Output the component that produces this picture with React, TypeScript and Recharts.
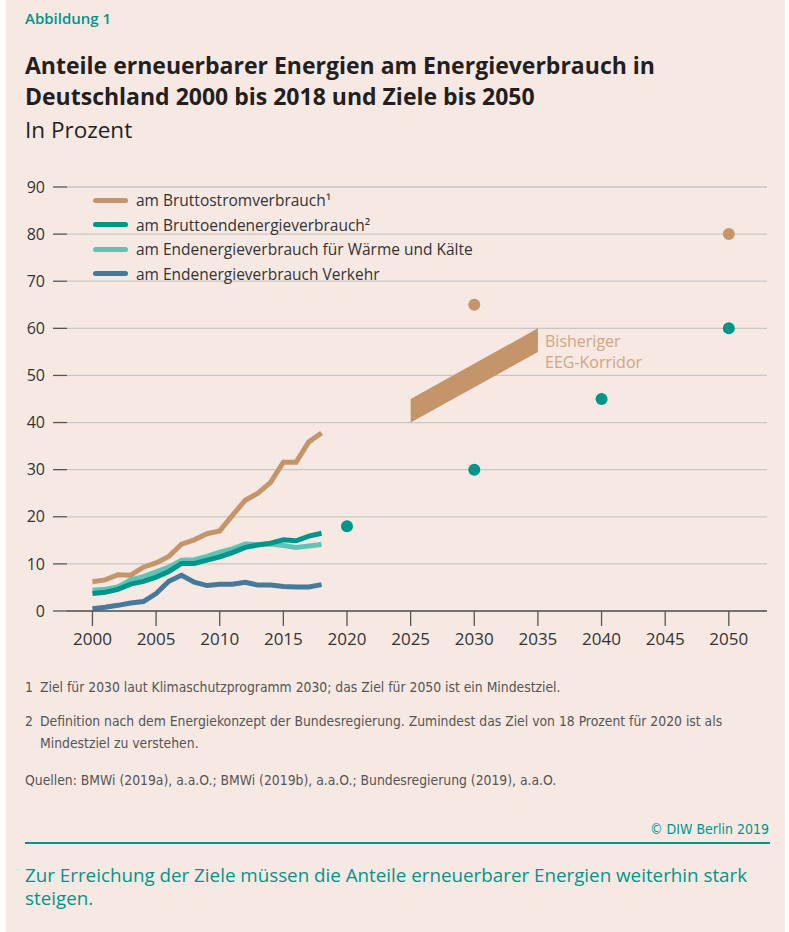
import React from "react";
import {
  ComposedChart,
  Line,
  Area,
  Scatter,
  XAxis,
  YAxis,
  CartesianGrid,
} from "recharts";

// ---------- data ----------
const years = [2000, 2001, 2002, 2003, 2004, 2005, 2006, 2007, 2008, 2009, 2010, 2011, 2012, 2013, 2014, 2015, 2016, 2017, 2018];
const bruttostrom = [6.2, 6.6, 7.7, 7.6, 9.3, 10.2, 11.6, 14.2, 15.1, 16.4, 17.0, 20.3, 23.5, 25.0, 27.3, 31.6, 31.6, 35.9, 37.8];
const bruttoenden = [3.7, 4.0, 4.6, 5.7, 6.3, 7.2, 8.4, 10.1, 10.1, 10.8, 11.5, 12.4, 13.5, 14.0, 14.4, 15.1, 14.9, 15.9, 16.5];
const waerme = [4.4, 4.6, 5.1, 6.6, 7.3, 8.3, 9.3, 10.8, 10.9, 11.6, 12.5, 13.2, 14.2, 14.1, 14.2, 13.9, 13.5, 13.8, 14.1];
const verkehr = [0.5, 0.8, 1.2, 1.7, 2.0, 3.7, 6.3, 7.6, 6.1, 5.4, 5.7, 5.7, 6.1, 5.5, 5.5, 5.2, 5.1, 5.1, 5.6];

const stromTargetYears = [2030, 2050];
const stromTargetValues = [65, 80];
const endTargetYears = [2020, 2030, 2040, 2050];
const endTargetValues = [18, 30, 45, 60];

const corridorYears = [2025, 2035];
const corridorLow = [40, 55];
const corridorHigh = [45, 60];

const xTicks = [2000, 2005, 2010, 2015, 2020, 2025, 2030, 2035, 2040, 2045, 2050];
const yTicks = [0, 10, 20, 30, 40, 50, 60, 70, 80, 90];

const C_TAN = "#c4956a";
const C_TEAL = "#00958a";
const C_LTEAL = "#5ec5b6";
const C_BLUE = "#46799a";
const BG = "#f6e9e4";

const series = [
  { key: "strom", name: "am Bruttostromverbrauch¹", color: C_TAN },
  { key: "end", name: "am Bruttoendenergieverbrauch²", color: C_TEAL },
  { key: "waerme", name: "am Endenergieverbrauch für Wärme und Kälte", color: C_LTEAL },
  { key: "verkehr", name: "am Endenergieverbrauch Verkehr", color: C_BLUE },
];

const tableData: any[] = years.map((y, i) => ({
  year: y,
  strom: bruttostrom[i],
  end: bruttoenden[i],
  waerme: waerme[i],
  verkehr: verkehr[i],
}));
corridorYears.forEach((y, i) => {
  tableData.push({ year: y, corridor: [corridorLow[i], corridorHigh[i]] });
});

const stromTargets = stromTargetYears.map((y, i) => ({ year: y, value: stromTargetValues[i] }));
const endTargets = endTargetYears.map((y, i) => ({ year: y, value: endTargetValues[i] }));

const FONT = "'Open Sans', 'Noto Sans', sans-serif";
const NARROW = "'Liberation Sans Narrow', 'DejaVu Sans Condensed', 'Roboto', sans-serif";

const dot = (color: string) => (props: any) => (
  <circle cx={props.cx} cy={props.cy} r={6} fill={color} />
);

export default function App() {
  return (
    <div
      style={{
        position: "absolute",
        left: 0,
        top: 0,
        width: 789,
        height: 932,
        background: "#ffffff",
        fontFamily: FONT,
      }}
    >
      <div
        style={{
          position: "absolute",
          left: 6,
          top: 0,
          width: 779,
          height: 932,
          background: BG,
        }}
      />
      {/* header */}
      <div style={{ position: "absolute", left: 25, top: 8, fontSize: 15, fontWeight: 600, color: C_TEAL, fontFamily: FONT }}>
        Abbildung 1
      </div>
      <div
        style={{
          position: "absolute",
          left: 25,
          top: 50,
          fontSize: 23,
          fontWeight: 700,
          lineHeight: "31px",
          color: "#231f20",
          width: 760,
          whiteSpace: "nowrap",
        }}
      >
        Anteile erneuerbarer Energien am Energieverbrauch in
        <br />
        Deutschland 2000 bis 2018 und Ziele bis 2050
      </div>
      <div style={{ position: "absolute", left: 25, top: 114, fontSize: 22.5, color: "#231f20", fontWeight: 400 }}>
        In Prozent
      </div>

      {/* chart */}
      <div style={{ position: "absolute", left: 0, top: 0 }}>
        <ComposedChart
          width={789}
          height={681}
          data={tableData}
          margin={{ top: 187, right: 22, bottom: 40, left: 27 }}
        >
          <CartesianGrid vertical={false} stroke="#cbc5c4" strokeWidth={1.3} />
          <XAxis
            dataKey="year"
            type="number"
            domain={[1998, 2053]}
            ticks={xTicks}
            interval={0}
            height={30}
            tickSize={15}
            tickMargin={7}
            axisLine={{ stroke: "#555", strokeWidth: 1.3 }}
            tickLine={{ stroke: "#555", strokeWidth: 1.3 }}
            tick={{ fill: "#333", fontSize: 17, fontFamily: FONT }}
          />
          <YAxis
            type="number"
            domain={[0, 90]}
            ticks={yTicks}
            interval={0}
            width={40}
            axisLine={false}
            tickSize={14}
            tickMargin={8}
            tickLine={{ stroke: "#555", strokeWidth: 1.3 }}
            tick={{ fill: "#333", fontSize: 16, fontFamily: FONT }}
          />
          <Area
            dataKey="corridor"
            type="linear"
            stroke="none"
            fill={C_TAN}
            fillOpacity={1}
            isAnimationActive={false}
            connectNulls={false}
          />
          <Line dataKey="strom" type="linear" stroke={C_TAN} strokeWidth={5} dot={false} isAnimationActive={false} />
          <Line dataKey="waerme" type="linear" stroke={C_LTEAL} strokeWidth={5} dot={false} isAnimationActive={false} />
          <Line dataKey="end" type="linear" stroke={C_TEAL} strokeWidth={5} dot={false} isAnimationActive={false} />
          <Line dataKey="verkehr" type="linear" stroke={C_BLUE} strokeWidth={5} dot={false} isAnimationActive={false} />
          <Scatter data={stromTargets} dataKey="value" fill={C_TAN} shape={dot(C_TAN)} isAnimationActive={false} />
          <Scatter data={endTargets} dataKey="value" fill={C_TEAL} shape={dot(C_TEAL)} isAnimationActive={false} />
        </ComposedChart>
      </div>

      {/* legend */}
      {series.map((s, i) => (
        <div key={s.key} style={{ position: "absolute", left: 93, top: 188 + i * 24.5, height: 24, display: "flex", alignItems: "center" }}>
          <div style={{ width: 35, height: 5, borderRadius: 3, background: s.color, marginRight: 8 }} />
          <span style={{ fontSize: 15.5, color: "#333", whiteSpace: "nowrap" }}>{s.name}</span>
        </div>
      ))}

      {/* corridor label */}
      <div style={{ position: "absolute", left: 545, top: 331, fontSize: 16, lineHeight: "21px", color: "#d2a57f" }}>
        Bisheriger
        <br />
        EEG-Korridor
      </div>

      {/* footnotes */}
      <div style={{ position: "absolute", left: 25, top: 676, width: 740, fontSize: 13.8, color: "#555", fontFamily: NARROW, lineHeight: "22px" }}>
        <div style={{ display: "flex" }}>
          <span style={{ width: 15, flex: "none" }}>1</span>
          <span>Ziel für 2030 laut Klimaschutzprogramm 2030; das Ziel für 2050 ist ein Mindestziel.</span>
        </div>
        <div style={{ display: "flex", marginTop: 12 }}>
          <span style={{ width: 15, flex: "none" }}>2</span>
          <span>
            Definition nach dem Energiekonzept der Bundesregierung. Zumindest das Ziel von 18 Prozent für 2020 ist als
            Mindestziel zu verstehen.
          </span>
        </div>
        <div style={{ marginTop: 15 }}>Quellen: BMWi (2019a), a.a.O.; BMWi (2019b), a.a.O.; Bundesregierung (2019), a.a.O.</div>
      </div>

      {/* copyright + rule */}
      <div style={{ position: "absolute", right: 789 - 769, top: 821, fontSize: 14, color: C_TEAL, fontFamily: NARROW }}>
        © DIW Berlin 2019
      </div>
      <div style={{ position: "absolute", left: 25, top: 842, width: 745, height: 2, background: C_TEAL }} />
      <div style={{ position: "absolute", left: 25, top: 864, width: 745, fontSize: 18.8, lineHeight: "23px", color: C_TEAL }}>
        Zur Erreichung der Ziele müssen die Anteile erneuerbarer Energien weiterhin stark steigen.
      </div>
    </div>
  );
}
